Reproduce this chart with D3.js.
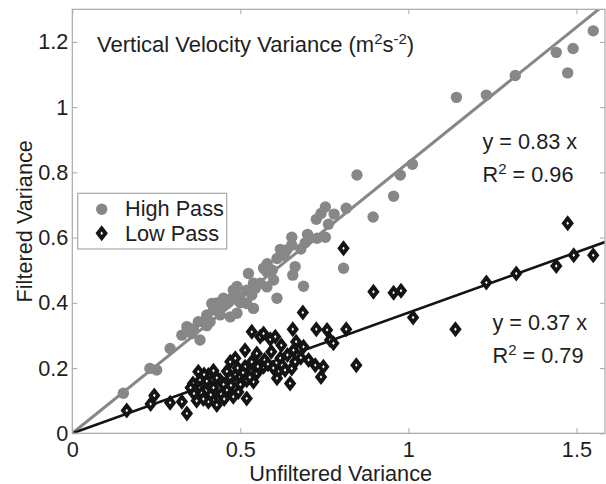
<!DOCTYPE html>
<html>
<head>
<meta charset="utf-8">
<script src="https://cdn.jsdelivr.net/npm/d3@7/dist/d3.min.js"></script>
<style>
  html, body { margin: 0; padding: 0; background: #fff; }
  svg { display: block; }
  text { font-family: "Liberation Sans", Arial, Helvetica, sans-serif; fill: #1e1e1e; }
</style>
</head>
<body>
<svg id="chart" width="606" height="484"></svg>
<script>
// Unfiltered vs filtered vertical velocity variance, [unfiltered, filtered]
const highPass = [
  [1.550, 1.234], [1.490, 1.180], [1.440, 1.168], [1.474, 1.105], [1.318, 1.097],
  [1.232, 1.037], [1.143, 1.030], [1.012, 0.825], [0.976, 0.792], [0.847, 0.792],
  [0.956, 0.727], [0.895, 0.663], [0.815, 0.690], [0.779, 0.672], [0.753, 0.694],
  [0.740, 0.674], [0.726, 0.656], [0.762, 0.641], [0.753, 0.601], [0.728, 0.598],
  [0.703, 0.595], [0.693, 0.584], [0.653, 0.601], [0.653, 0.577], [0.619, 0.564],
  [0.609, 0.536], [0.638, 0.562], [0.663, 0.511], [0.656, 0.485], [0.579, 0.495],
  [0.569, 0.506], [0.807, 0.506], [0.688, 0.451], [0.599, 0.470], [0.609, 0.414],
  [0.559, 0.460], [0.579, 0.449], [0.539, 0.383], [0.524, 0.490], [0.539, 0.460],
  [0.519, 0.439], [0.534, 0.424], [0.499, 0.419], [0.479, 0.439], [0.479, 0.419],
  [0.519, 0.398], [0.490, 0.368], [0.470, 0.357], [0.450, 0.414], [0.440, 0.383],
  [0.420, 0.378], [0.415, 0.398], [0.400, 0.363], [0.390, 0.342], [0.375, 0.342],
  [0.380, 0.286], [0.356, 0.306], [0.341, 0.327], [0.326, 0.301], [0.291, 0.260],
  [0.251, 0.194], [0.231, 0.199], [0.152, 0.123], [0.410, 0.342], [0.460, 0.398],
  [0.440, 0.363], [0.490, 0.450], [0.580, 0.520], [0.630, 0.545], [0.700, 0.610],
  [0.430, 0.400], [0.500, 0.400], [0.545, 0.445], [0.595, 0.500], [0.680, 0.565],
  [0.400, 0.330], [0.360, 0.320]
];

const lowPass = [
  [0.162, 0.070], [0.233, 0.090], [0.244, 0.116], [0.291, 0.094], [0.326, 0.097],
  [0.341, 0.061], [0.359, 0.153], [0.375, 0.189], [0.380, 0.163], [0.380, 0.138],
  [0.385, 0.123], [0.405, 0.179], [0.410, 0.143], [0.405, 0.097], [0.425, 0.123],
  [0.430, 0.087], [0.440, 0.163], [0.460, 0.133], [0.479, 0.112], [0.485, 0.179],
  [0.470, 0.219], [0.485, 0.230], [0.494, 0.127], [0.499, 0.173], [0.514, 0.204],
  [0.519, 0.163], [0.519, 0.107], [0.539, 0.158], [0.514, 0.255], [0.534, 0.219],
  [0.534, 0.311], [0.559, 0.296], [0.549, 0.245], [0.549, 0.184], [0.569, 0.204],
  [0.572, 0.225], [0.569, 0.306], [0.589, 0.288], [0.604, 0.296], [0.613, 0.189],
  [0.619, 0.230], [0.624, 0.209], [0.609, 0.169], [0.633, 0.194], [0.648, 0.153],
  [0.653, 0.199], [0.663, 0.219], [0.658, 0.255], [0.666, 0.281], [0.688, 0.265],
  [0.656, 0.319], [0.686, 0.370], [0.703, 0.225], [0.723, 0.209], [0.740, 0.173],
  [0.747, 0.204], [0.726, 0.319], [0.758, 0.317], [0.767, 0.286], [0.777, 0.276],
  [0.815, 0.319], [0.845, 0.209], [0.807, 0.567], [0.896, 0.434], [0.956, 0.431],
  [0.978, 0.437], [1.014, 0.355], [1.140, 0.319], [1.232, 0.462], [1.321, 0.490],
  [1.440, 0.513], [1.474, 0.644], [1.492, 0.546], [1.550, 0.546],
  [0.450, 0.150], [0.470, 0.170], [0.500, 0.150], [0.430, 0.170], [0.530, 0.190],
  [0.460, 0.190], [0.400, 0.160], [0.390, 0.105], [0.412, 0.118], [0.420, 0.140],
  [0.443, 0.120], [0.452, 0.105], [0.392, 0.180], [0.420, 0.192], [0.472, 0.147],
  [0.492, 0.200], [0.508, 0.186], [0.528, 0.172], [0.552, 0.205], [0.582, 0.212],
  [0.598, 0.200], [0.592, 0.250], [0.640, 0.240], [0.622, 0.270], [0.680, 0.232],
  [0.362, 0.122], [0.370, 0.100], [0.352, 0.140]
];

// Fitted slopes through the origin and their R^2
const highSlope = 0.83, highR2 = "0.96";
const lowSlope = 0.37, lowR2 = "0.79";

const xTicks = [0, 0.5, 1, 1.5];
const yTicks = [0, 0.2, 0.4, 0.6, 0.8, 1, 1.2];
const xDomain = [0, 1.585];
const yDomain = [0, 1.3];

const seriesNames = ["High Pass", "Low Pass"];
const titleParts = ["Vertical Velocity Variance (m", "2", "s", "-2", ")"];
const xLabel = "Unfiltered Variance";
const yLabel = "Filtered Variance";

const grey = "#878787";
const ink = "#141414";
const frame = "#a8a8a8";
const fontPx = "21.7px";
const supPx = "15px";

const svg = d3.select("#chart");
const pLeft = 72.3, pRight = 605, pTop = 9.3, pBottom = 433.3;

const x = d3.scaleLinear().domain(xDomain).range([pLeft, pRight]);
const y = d3.scaleLinear().domain(yDomain).range([pBottom, pTop]);

svg.append("defs").append("clipPath").attr("id", "plotclip")
  .append("rect").attr("x", pLeft).attr("y", pTop)
  .attr("width", pRight - pLeft).attr("height", pBottom - pTop);

// Fit lines
const plot = svg.append("g").attr("clip-path", "url(#plotclip)");
const fitLine = (slope) => d3.line().x(d => x(d)).y(d => y(slope * d))([0, xDomain[1]]);
plot.append("path").attr("d", fitLine(highSlope))
  .attr("fill", "none").attr("stroke", grey).attr("stroke-width", 3);
plot.append("path").attr("d", fitLine(lowSlope))
  .attr("fill", "none").attr("stroke", ink).attr("stroke-width", 2.6);

// Markers: grey discs and black diamonds with a small white centre
const outerDiamond = "M0,-8L6.2,0L0,8L-6.2,0Z";
const innerDiamond = "M0,-1.7L1.3,0L0,1.7L-1.3,0Z";
plot.selectAll("circle.hp").data(highPass).join("circle")
  .attr("class", "hp")
  .attr("cx", d => x(d[0])).attr("cy", d => y(d[1]))
  .attr("r", 5.7).attr("fill", grey);
const lp = plot.selectAll("g.lp").data(lowPass).join("g")
  .attr("class", "lp")
  .attr("transform", d => `translate(${x(d[0])},${y(d[1])})`);
lp.append("path").attr("d", outerDiamond).attr("fill", ink);
lp.append("path").attr("d", innerDiamond).attr("fill", "#fff");

// Axes with inward ticks and a box frame
const styleAxis = g => {
  g.select(".domain").remove();
  g.selectAll(".tick line").attr("stroke", frame);
  g.selectAll(".tick text").attr("fill", "#1e1e1e")
    .style("font-size", fontPx).style("font-family", "'Liberation Sans', Arial, sans-serif");
};
svg.append("g").attr("transform", `translate(0,${pBottom})`)
  .call(d3.axisBottom(x).tickValues(xTicks).tickFormat(d3.format("")).tickSize(-5).tickPadding(8))
  .call(styleAxis);
svg.append("g").attr("transform", `translate(${pLeft},0)`)
  .call(d3.axisLeft(y).tickValues(yTicks).tickFormat(d3.format("")).tickSize(-5).tickPadding(4))
  .call(styleAxis);
svg.append("g").attr("transform", `translate(0,${pTop})`)
  .call(d3.axisTop(x).tickValues(xTicks).tickFormat("").tickSize(-5))
  .call(styleAxis);
svg.append("g").attr("transform", `translate(${pRight},0)`)
  .call(d3.axisRight(y).tickValues(yTicks).tickFormat("").tickSize(-5))
  .call(styleAxis);
svg.append("rect").attr("x", pLeft).attr("y", pTop)
  .attr("width", pRight - pLeft).attr("height", pBottom - pTop)
  .attr("fill", "none").attr("stroke", frame).attr("stroke-width", 1.2);

// Title inside the plot
const title = svg.append("text").attr("x", 97).attr("y", 51.5).style("font-size", "22px");
title.append("tspan").text(titleParts[0]);
title.append("tspan").attr("dy", -8).style("font-size", supPx).text(titleParts[1]);
title.append("tspan").attr("dy", 8).text(titleParts[2]);
title.append("tspan").attr("dy", -8).style("font-size", supPx).text(titleParts[3]);
title.append("tspan").attr("dy", 8).text(titleParts[4]);

// Axis labels
svg.append("text").attr("x", (pLeft + pRight) / 2 + 2).attr("y", 480.5)
  .attr("text-anchor", "middle").style("font-size", fontPx).text(xLabel);
svg.append("text").attr("transform", `translate(32,${(pTop + pBottom) / 2}) rotate(-90)`)
  .attr("text-anchor", "middle").style("font-size", fontPx).text(yLabel);

// Fit annotations
function annotate(x0, y0, slope, r2) {
  svg.append("text").attr("x", x0).attr("y", y0).style("font-size", fontPx)
    .text(`y = ${slope} x`);
  const t = svg.append("text").attr("x", x0).attr("y", y0 + 33).style("font-size", fontPx);
  t.append("tspan").text("R");
  t.append("tspan").attr("dy", -8).style("font-size", supPx).text("2");
  t.append("tspan").attr("dy", 8).text(" = " + r2);
}
annotate(482.5, 148.5, highSlope, highR2);
annotate(492.5, 329.5, lowSlope, lowR2);

// Legend
const lg = svg.append("g");
lg.append("rect").attr("x", 77.7).attr("y", 193.3).attr("width", 149).attr("height", 55.7)
  .attr("fill", "#fff").attr("stroke", frame).attr("stroke-width", 1.2);
lg.append("circle").attr("cx", 101.7).attr("cy", 209.3).attr("r", 5.7).attr("fill", grey);
const lgd = lg.append("g").attr("transform", "translate(101.7,233.3)");
lgd.append("path").attr("d", outerDiamond).attr("fill", ink);
lgd.append("path").attr("d", innerDiamond).attr("fill", "#fff");
lg.append("text").attr("x", 125).attr("y", 216).style("font-size", fontPx).text(seriesNames[0]);
lg.append("text").attr("x", 125).attr("y", 241).style("font-size", fontPx).text(seriesNames[1]);
</script>
</body>
</html>
